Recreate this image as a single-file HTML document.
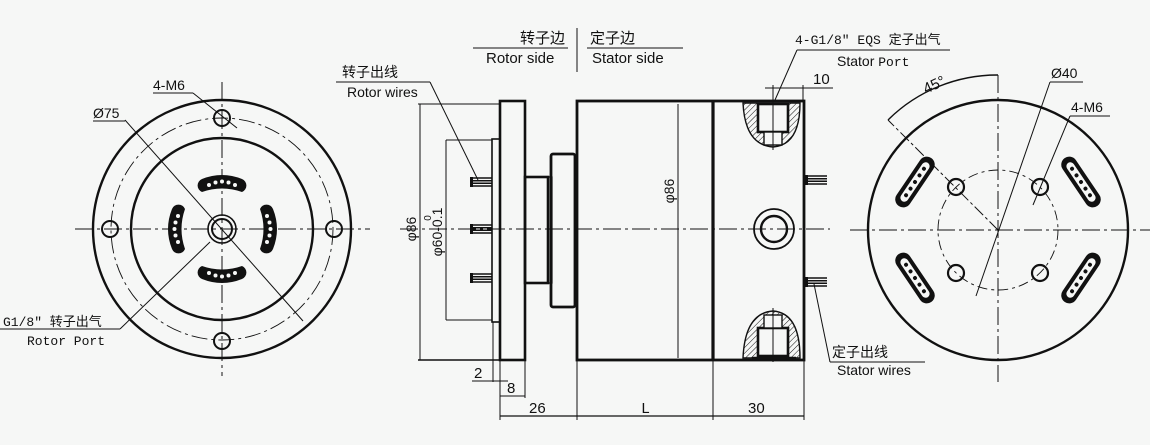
<!DOCTYPE html>
<html><head><meta charset="utf-8"><style>
html,body{margin:0;padding:0;background:#f6f7f6;}
svg{display:block}
text{font-family:"Liberation Sans","Noto Sans CJK SC",sans-serif;fill:#111}
.m{font-family:"Liberation Mono","Noto Sans CJK SC",monospace}
</style></head><body>
<svg width="1150" height="445" viewBox="0 0 1150 445" xmlns="http://www.w3.org/2000/svg">
<defs>
<pattern id="h" width="4" height="4" patternUnits="userSpaceOnUse" patternTransform="rotate(45)">
<line x1="0" y1="0" x2="0" y2="4" stroke="#111" stroke-width="1"/></pattern>
<g id="slotH"><path d="M-20,-6 Q0,-14 20,-6 A7,7 0 0 1 20,7 Q0,0 -20,7 A7,7 0 0 1 -20,-6Z" fill="#111"/>
<g fill="#f6f7f6"><circle cx="-13" cy="0" r="2"/><circle cx="-6.5" cy="-2.5" r="2"/><circle cx="0" cy="-3.5" r="2"/><circle cx="6.5" cy="-2.5" r="2"/><circle cx="13" cy="0" r="2"/></g></g>
<g id="slotS"><rect x="-29" y="-8" width="58" height="16" rx="8" fill="#111"/><rect x="-23" y="-4" width="46" height="8" rx="4" fill="#f6f7f6"/>
<g fill="#111"><circle cx="-16" cy="0" r="2"/><circle cx="-8" cy="0" r="2"/><circle cx="0" cy="0" r="2"/><circle cx="8" cy="0" r="2"/><circle cx="16" cy="0" r="2"/></g></g>
<g id="wire"><g stroke="#111" stroke-width="1.5"><line x1="0" y1="-4" x2="22" y2="-4"/><line x1="0" y1="-1.3" x2="22" y2="-1.3"/><line x1="0" y1="1.3" x2="22" y2="1.3"/><line x1="0" y1="4" x2="22" y2="4"/></g><rect x="0" y="-5" width="3" height="10" fill="#111"/></g>
</defs>

<!-- LEFT VIEW -->
<g fill="none" stroke="#111">
<line x1="75" y1="229" x2="370" y2="229" stroke-width="1" stroke-dasharray="18,4,3,4"/>
<line x1="222" y1="82" x2="222" y2="376" stroke-width="1" stroke-dasharray="18,4,3,4"/>
<circle cx="222" cy="229" r="129" stroke-width="2.4"/>
<circle cx="222" cy="229" r="111" stroke-width="0.9" stroke-dasharray="16,4,3,4"/>
<circle cx="222" cy="229" r="91" stroke-width="2.4"/>
<circle cx="110" cy="229" r="8" stroke-width="2"/><circle cx="334" cy="229" r="8" stroke-width="2"/>
<circle cx="222" cy="118" r="8" stroke-width="2"/><circle cx="222" cy="341" r="8" stroke-width="2"/>
<circle cx="222" cy="229" r="14" stroke-width="1.6"/><circle cx="222" cy="229" r="10" stroke-width="2"/>
<line x1="125" y1="120" x2="303" y2="321" stroke-width="1"/>
<line x1="153" y1="93" x2="193" y2="93" stroke-width="1"/><line x1="193" y1="93" x2="237" y2="128" stroke-width="1"/>
<line x1="93" y1="121" x2="125" y2="121" stroke-width="1"/>
<line x1="0" y1="329" x2="120" y2="329" stroke-width="1"/><line x1="120" y1="329" x2="210" y2="242" stroke-width="1"/>
</g>
<use href="#slotH" x="222" y="185"/>
<use href="#slotH" transform="translate(222,273) rotate(180)"/>
<use href="#slotH" transform="translate(178,229) rotate(-90)"/>
<use href="#slotH" transform="translate(267,229) rotate(90)"/>
<text x="153" y="90" font-size="14">4-M6</text>
<text x="93" y="118" font-size="14">Ø75</text>
<text x="3" y="326" font-size="13" class="m">G1/8″ 转子出气</text>
<text x="27" y="345" font-size="13" class="m">Rotor Port</text>

<!-- MIDDLE VIEW -->
<g fill="none" stroke="#111">
<line x1="400" y1="229" x2="830" y2="229" stroke-width="1" stroke-dasharray="18,4,3,4"/>
<rect x="500" y="101" width="25" height="259" stroke-width="2.6"/>
<rect x="492" y="139" width="8" height="183" stroke-width="1.6"/>
<rect x="525" y="177" width="23" height="106" stroke-width="2.6"/>
<rect x="548" y="177" width="4" height="106" stroke-width="1.2"/>
<rect x="551" y="154" width="24" height="153" rx="2" stroke-width="2.8"/>
<rect x="577" y="101" width="227" height="259" stroke-width="2.8"/>
<line x1="713" y1="101" x2="713" y2="360" stroke-width="3.2"/>
<line x1="678" y1="104" x2="678" y2="358" stroke-width="1"/>
<circle cx="774" cy="229" r="20" stroke-width="1.8"/><circle cx="774" cy="229" r="13" stroke-width="2.4"/>
<line x1="418" y1="104" x2="500" y2="104" stroke-width="1"/>
<line x1="418" y1="360" x2="500" y2="360" stroke-width="1.4"/>
<line x1="420" y1="104" x2="420" y2="360" stroke-width="1"/>
<line x1="446" y1="140" x2="492" y2="140" stroke-width="1"/>
<line x1="446" y1="320" x2="492" y2="320" stroke-width="1"/>
<line x1="446" y1="140" x2="446" y2="320" stroke-width="1"/>
<line x1="500" y1="360" x2="500" y2="420" stroke-width="1"/>
<line x1="493" y1="322" x2="493" y2="382" stroke-width="1"/>
<line x1="525" y1="360" x2="525" y2="398" stroke-width="1"/>
<line x1="577" y1="360" x2="577" y2="420" stroke-width="1"/>
<line x1="713" y1="360" x2="713" y2="420" stroke-width="1"/>
<line x1="804" y1="360" x2="804" y2="420" stroke-width="1"/>
<line x1="472" y1="381" x2="508" y2="381" stroke-width="1"/>
<line x1="500" y1="396" x2="525" y2="396" stroke-width="1"/>
<line x1="500" y1="416" x2="804" y2="416" stroke-width="1.2"/>
<line x1="473" y1="48" x2="568" y2="48" stroke-width="1"/>
<line x1="587" y1="48" x2="683" y2="48" stroke-width="1"/>
<line x1="577" y1="28" x2="577" y2="72" stroke-width="1"/>
<line x1="336" y1="82" x2="430" y2="82" stroke-width="1"/><line x1="430" y1="82" x2="478" y2="180" stroke-width="1"/>
<line x1="797" y1="50" x2="950" y2="50" stroke-width="1"/><line x1="797" y1="50" x2="775" y2="100" stroke-width="1"/>
<line x1="765" y1="88" x2="833" y2="88" stroke-width="1"/>
<line x1="773" y1="85" x2="773" y2="101" stroke-width="1"/><line x1="803" y1="85" x2="803" y2="101" stroke-width="1"/>
<line x1="830" y1="362" x2="925" y2="362" stroke-width="1"/><line x1="830" y1="362" x2="814" y2="284" stroke-width="1"/>
</g>
<g stroke="#111">
<path d="M743,103 Q745,145 773,147 Q800,145 800,103 Z" fill="url(#h)" stroke-width="1.4"/>
<rect x="758" y="104" width="30" height="28" fill="#f6f7f6" stroke-width="2.6"/>
<rect x="764" y="132" width="18" height="13" fill="#f6f7f6" stroke-width="1.4"/>
<line x1="773" y1="98" x2="773" y2="150" stroke-width="1"/>
<path d="M743,358 Q745,313 773,311 Q800,313 800,358 Z" fill="url(#h)" stroke-width="1.4"/>
<rect x="758" y="328" width="30" height="28" fill="#f6f7f6" stroke-width="2.6"/>
<rect x="764" y="315" width="18" height="13" fill="#f6f7f6" stroke-width="1.4"/>
<line x1="773" y1="308" x2="773" y2="362" stroke-width="1"/>
<line x1="752" y1="358" x2="796" y2="358" stroke-width="2.4"/>
</g>
<use href="#wire" x="470" y="182"/><use href="#wire" x="470" y="229"/><use href="#wire" x="470" y="278"/>
<use href="#wire" x="805" y="180"/><use href="#wire" x="805" y="282"/>
<text x="565" y="43" font-size="15" text-anchor="end">转子边</text>
<text x="486" y="63" font-size="15">Rotor side</text>
<text x="590" y="43" font-size="15">定子边</text>
<text x="592" y="63" font-size="15">Stator side</text>
<text x="342" y="77" font-size="14">转子出线</text>
<text x="347" y="97" font-size="14">Rotor wires</text>
<text x="795" y="44" font-size="13" class="m">4-G1/8″ EQS 定子出气</text>
<text x="837" y="66" font-size="14">Stator <tspan class="m" font-size="13">Port</tspan></text>
<text x="813" y="84" font-size="15">10</text>
<text x="832" y="357" font-size="14">定子出线</text>
<text x="837" y="375" font-size="14">Stator wires</text>
<text transform="translate(416,229) rotate(-90)" font-size="14" text-anchor="middle">φ86</text>
<text transform="translate(442,232) rotate(-90)" font-size="14" text-anchor="middle">φ60-0.1</text>
<text transform="translate(431,218) rotate(-90)" font-size="10" text-anchor="middle">0</text>
<text transform="translate(674,191) rotate(-90)" font-size="14" text-anchor="middle">φ86</text>
<text x="474" y="378" font-size="15">2</text>
<text x="507" y="393" font-size="15">8</text>
<text x="529" y="413" font-size="15">26</text>
<text x="641" y="413" font-size="15" class="m">L</text>
<text x="748" y="413" font-size="15">30</text>

<!-- RIGHT VIEW -->
<g fill="none" stroke="#111">
<line x1="850" y1="230" x2="1150" y2="230" stroke-width="1" stroke-dasharray="18,4,3,4"/>
<line x1="998" y1="75" x2="998" y2="382" stroke-width="1" stroke-dasharray="18,4,3,4"/>
<circle cx="998" cy="230" r="130" stroke-width="2.4"/>
<circle cx="998" cy="230" r="60" stroke-width="0.9" stroke-dasharray="10,4,3,4"/>
<circle cx="956" cy="187" r="8" stroke-width="2.2"/><circle cx="1040" cy="187" r="8" stroke-width="2.2"/>
<circle cx="956" cy="273" r="8" stroke-width="2.2"/><circle cx="1040" cy="273" r="8" stroke-width="2.2"/>
<line x1="998" y1="230" x2="888" y2="120" stroke-width="1" stroke-dasharray="12,3,3,3"/>
<path d="M888,120 A155,155 0 0 1 998,75" stroke-width="1.4"/>
<line x1="1050" y1="82" x2="1083" y2="82" stroke-width="1"/><line x1="1050" y1="82" x2="976" y2="296" stroke-width="1"/>
<line x1="1070" y1="116" x2="1110" y2="116" stroke-width="1"/><line x1="1070" y1="116" x2="1033" y2="205" stroke-width="1"/>
</g>
<use href="#slotS" transform="translate(915,182) rotate(-56)"/>
<use href="#slotS" transform="translate(1081,182) rotate(56)"/>
<use href="#slotS" transform="translate(915,278) rotate(56)"/>
<use href="#slotS" transform="translate(1081,278) rotate(-56)"/>
<text transform="translate(926,94) rotate(-25)" font-size="15">45°</text>
<text x="1051" y="78" font-size="14">Ø40</text>
<text x="1071" y="112" font-size="14">4-M6</text>
</svg>
</body></html>
